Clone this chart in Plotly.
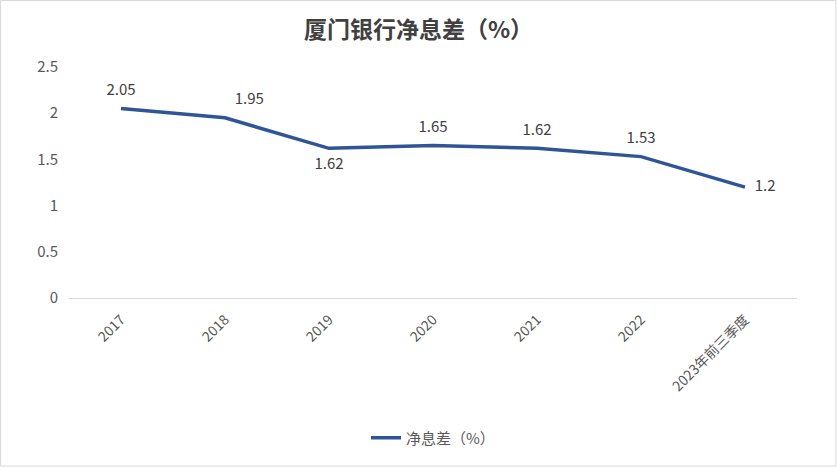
import plotly.graph_objects as go

categories = ["2017", "2018", "2019", "2020", "2021", "2022", "2023年前三季度"]
nim_values = [2.05, 1.95, 1.62, 1.65, 1.62, 1.53, 1.2]
value_labels = ["2.05", "1.95", "1.62", "1.65", "1.62", "1.53", "1.2"]
label_positions = ["top center", "top right", "bottom center", "top center",
                   "top center", "top center", "middle right"]
y_ticks = [0, 0.5, 1, 1.5, 2, 2.5]
y_tick_labels = ["0", "0.5", "1", "1.5", "2", "2.5"]

font_family = "Noto Sans CJK SC, Microsoft YaHei, sans-serif"
line_color = "#2F5597"

fig = go.Figure()
fig.add_trace(go.Scatter(
    x=categories, y=nim_values,
    mode="lines+markers+text",
    name="净息差（%）",
    showlegend=False,
    text=value_labels,
    textposition=label_positions,
    textfont=dict(size=15, color="#404040", family=font_family),
    line=dict(color=line_color, width=3.5),
    marker=dict(size=14, opacity=0, color=line_color),
    cliponaxis=False,
))
fig.add_trace(go.Scatter(
    x=[None], y=[None], mode="lines", name="净息差（%）",
    line=dict(color=line_color, width=3.5),
))

fig.update_layout(
    width=837, height=467,
    paper_bgcolor="white", plot_bgcolor="white",
    margin=dict(l=69, r=40, t=67, b=169),
    title=dict(text="<b>厦门银行净息差（%）</b>", x=0.5, xanchor="center",
               y=0.935, yanchor="middle",
               font=dict(size=23, color="#404040", family=font_family)),
    xaxis=dict(type="category", range=[-0.5, 6.5], showgrid=False, showline=True,
               linecolor="#D9D9D9", linewidth=1, ticks="", tickangle=-45,
               ticklabelstandoff=7,
               tickfont=dict(size=14, color="#595959", family=font_family)),
    yaxis=dict(range=[0, 2.5], tickvals=y_ticks, ticktext=y_tick_labels,
               showgrid=False, zeroline=False, showline=False, ticks="",
               ticklabelstandoff=10,
               tickfont=dict(size=15, color="#595959", family=font_family)),
    showlegend=True,
    legend=dict(orientation="h", x=0.5, xanchor="center", y=-0.606, yanchor="middle",
                font=dict(size=15, color="#595959", family=font_family)),
    shapes=[dict(type="rect", xref="paper", yref="paper",
                 x0=-68.5/728, x1=1+39/728, y0=-168/231, y1=1+66.5/231,
                 line=dict(color="#D9D9D9", width=1))],
)

fig.write_html("out.html", config={"displayModeBar": False},
               post_script="document.body.style.margin='0';")
